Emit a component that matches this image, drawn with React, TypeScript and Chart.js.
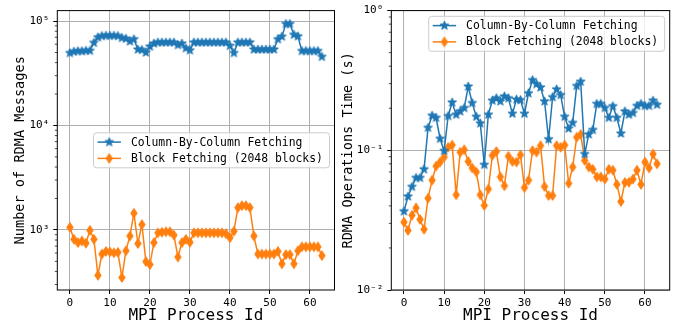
import React, { useEffect, useRef } from 'react';
import { Chart, registerables } from 'chart.js';
Chart.register(...registerables);

// ---------- data ----------
const processIds: number[] = Array.from({ length: 64 }, (_, i) => i);
const xTickValues = [0, 10, 20, 30, 40, 50, 60];

const seriesLabels = ['Column-By-Column Fetching', 'Block Fetching (2048 blocks)'];

const columnMessages = [
  49500, 51000, 51500, 51500, 52000, 52000, 62000, 70000, 72000, 72500,
  72500, 72500, 72000, 69000, 68000, 64000, 67000, 53500, 53000, 50000,
  57000, 61000, 62500, 62500, 62500, 62500, 62500, 59000, 61000, 55000,
  52500, 62500, 62500, 62500, 62500, 62500, 62500, 62500, 62500, 62500,
  58000, 49500, 62500, 62500, 62500, 62500, 53500, 53500, 53500, 53500,
  53500, 53500, 67000, 71000, 94000, 94000, 74000, 71500, 51700, 51700,
  51700, 51700, 51700, 45500,
];
const blockMessages = [
  1060, 813, 755, 783, 745, 990, 813, 367, 587, 622,
  615, 604, 610, 350, 631, 873, 1444, 739, 1124, 497,
  466, 755, 937, 950, 960, 960, 890, 550, 755, 813,
  760, 937, 937, 937, 937, 937, 937, 937, 937, 920,
  841, 972, 1634, 1706, 1706, 1634, 873, 587, 587, 587,
  587, 587, 622, 473, 580, 580, 473, 631, 688, 688,
  688, 688, 688, 567,
];
const columnTimes = [
  0.0366, 0.0467, 0.0548, 0.0635, 0.0635, 0.0731, 0.145, 0.177, 0.171, 0.121,
  0.099, 0.176, 0.22, 0.18, 0.19, 0.201, 0.286, 0.218, 0.174, 0.156,
  0.0788, 0.18, 0.227, 0.236, 0.224, 0.243, 0.236, 0.183, 0.231, 0.229,
  0.183, 0.256, 0.318, 0.298, 0.282, 0.224, 0.12, 0.24, 0.273, 0.249,
  0.174, 0.143, 0.157, 0.289, 0.31, 0.094, 0.13, 0.14, 0.215, 0.215,
  0.201, 0.171, 0.207, 0.171, 0.132, 0.19, 0.18, 0.185, 0.208, 0.215,
  0.208, 0.208, 0.227, 0.212,
];
const blockTimes = [
  0.0306, 0.0267, 0.0343, 0.0387, 0.032, 0.0272, 0.0454, 0.0611, 0.0771, 0.0823,
  0.0893, 0.105, 0.109, 0.048, 0.0968, 0.101, 0.0832, 0.0747, 0.07, 0.048,
  0.0403, 0.0528, 0.0918, 0.098, 0.0645, 0.0557, 0.0907, 0.0832, 0.0823, 0.0927,
  0.054, 0.061, 0.0995, 0.097, 0.108, 0.055, 0.0474, 0.0474, 0.108, 0.105,
  0.109, 0.058, 0.0759, 0.124, 0.13, 0.0846, 0.0759, 0.0731, 0.0645, 0.0645,
  0.0622, 0.0731, 0.072, 0.057, 0.043, 0.0589, 0.059, 0.0622, 0.072, 0.057,
  0.0823, 0.0747, 0.094, 0.08,
];

const leftMajorTicks = [1e3, 1e4, 1e5];
const rightMajorTicks = [1e-2, 1e-1, 1e0];

// ---------- styling ----------
const BLUE = '#1f77b4';
const ORANGE = '#ff7f0e';
const MONO = "'DejaVu Sans Mono', monospace";
const SUP: Record<string, string> = {
  '-': '\u207B', '0': '\u2070', '1': '\u00B9', '2': '\u00B2', '3': '\u00B3',
  '4': '\u2074', '5': '\u2075', '6': '\u2076', '7': '\u2077', '8': '\u2078', '9': '\u2079',
};
const powLabel = (v: number) => {
  const e = Math.round(Math.log10(v));
  return '10' + String(e).split('').map((c) => SUP[c]).join('');
};

function starCanvas(color: string, outer: number) {
  const size = Math.ceil(outer * 2 + 3);
  const c = document.createElement('canvas');
  c.width = size; c.height = size;
  const ctx = c.getContext('2d')!;
  const cx = size / 2, cy = size / 2;
  const inner = outer * 0.42;
  ctx.beginPath();
  for (let i = 0; i < 10; i++) {
    const r = i % 2 === 0 ? outer : inner;
    const a = -Math.PI / 2 + (i * Math.PI) / 5;
    const px = cx + r * Math.cos(a), py = cy + r * Math.sin(a);
    if (i === 0) ctx.moveTo(px, py); else ctx.lineTo(px, py);
  }
  ctx.closePath();
  ctx.fillStyle = color; ctx.fill();
  ctx.strokeStyle = color; ctx.lineWidth = 1; ctx.stroke();
  return c;
}
function diamondCanvas(color: string, hw: number, hh: number) {
  const w = Math.ceil(hw * 2 + 3), h = Math.ceil(hh * 2 + 3);
  const c = document.createElement('canvas');
  c.width = w; c.height = h;
  const ctx = c.getContext('2d')!;
  const cx = w / 2, cy = h / 2;
  ctx.beginPath();
  ctx.moveTo(cx, cy - hh); ctx.lineTo(cx + hw, cy); ctx.lineTo(cx, cy + hh); ctx.lineTo(cx - hw, cy);
  ctx.closePath();
  ctx.fillStyle = color; ctx.fill();
  ctx.strokeStyle = color; ctx.lineWidth = 1; ctx.stroke();
  return c;
}

type PanelProps = {
  canvasLeft: number;
  canvasWidth: number;
  areaLeft: number;
  rightPad: number;
  topPad: number;
  yMin: number;
  yMax: number;
  majors: number[];
  yTitle: string;
  yTitlePad: number;
  series: number[][];
  legendMode: 'centerRight' | 'upperRight';
};

const HEIGHT = 325;
const AREA_BOTTOM = 290;

function Panel(p: PanelProps) {
  const ref = useRef<HTMLCanvasElement | null>(null);
  useEffect(() => {
    if (!ref.current) return;
    const star = starCanvas(BLUE, 4.6);
    const diamond = diamondCanvas(ORANGE, 3.2, 4.8);
    const markers = [star, diamond];
    const colors = [BLUE, ORANGE];

    const decorPlugin = {
      id: 'decor',
      afterDraw(chart: any) {
        const { ctx, chartArea: a } = chart;
        const ys = chart.scales.y;
        ctx.save();
        // minor ticks
        ctx.strokeStyle = '#000';
        ctx.lineWidth = 0.7;
        const lo = Math.floor(Math.log10(p.yMin)), hi = Math.ceil(Math.log10(p.yMax));
        for (let e = lo; e <= hi; e++) {
          for (let m = 2; m <= 9; m++) {
            const v = m * Math.pow(10, e);
            if (v < p.yMin || v > p.yMax) continue;
            const py = ys.getPixelForValue(v);
            ctx.beginPath();
            ctx.moveTo(a.left - 2.5, py);
            ctx.lineTo(a.left, py);
            ctx.stroke();
          }
        }
        // frame
        ctx.lineWidth = 1;
        ctx.strokeStyle = '#000';
        ctx.strokeRect(a.left, a.top, a.right - a.left, a.bottom - a.top);

        // legend
        const bw = 236, bh = 35;
        const bx = a.right - 5 - bw;
        const by = p.legendMode === 'upperRight' ? a.top + 5.7 : (a.top + a.bottom) / 2 - bh / 2;
        const r = 3;
        ctx.beginPath();
        ctx.moveTo(bx + r, by);
        ctx.lineTo(bx + bw - r, by);
        ctx.quadraticCurveTo(bx + bw, by, bx + bw, by + r);
        ctx.lineTo(bx + bw, by + bh - r);
        ctx.quadraticCurveTo(bx + bw, by + bh, bx + bw - r, by + bh);
        ctx.lineTo(bx + r, by + bh);
        ctx.quadraticCurveTo(bx, by + bh, bx, by + bh - r);
        ctx.lineTo(bx, by + r);
        ctx.quadraticCurveTo(bx, by, bx + r, by);
        ctx.closePath();
        ctx.fillStyle = 'rgba(255,255,255,0.8)';
        ctx.fill();
        ctx.strokeStyle = '#cccccc';
        ctx.lineWidth = 1;
        ctx.stroke();
        const rows = [by + 9.3, by + 25.6];
        seriesLabels.forEach((lab, i) => {
          const ry = rows[i];
          ctx.strokeStyle = colors[i];
          ctx.lineWidth = 1.5;
          ctx.beginPath();
          ctx.moveTo(bx + 4, ry);
          ctx.lineTo(bx + 27.4, ry);
          ctx.stroke();
          const mk = markers[i];
          ctx.drawImage(mk, bx + 15.7 - mk.width / 2, ry - mk.height / 2);
          ctx.fillStyle = '#000';
          ctx.font = `11.4px ${MONO}`;
          ctx.textBaseline = 'middle';
          ctx.textAlign = 'left';
          ctx.fillText(lab, bx + 37.4, ry + 0.5);
        });
        ctx.restore();
      },
    };

    const chart = new Chart(ref.current, {
      type: 'line',
      data: {
        datasets: p.series.map((vals, i) => ({
          label: seriesLabels[i],
          data: processIds.map((x, k) => ({ x, y: vals[k] })),
          borderColor: colors[i],
          backgroundColor: colors[i],
          borderWidth: 1.5,
          pointStyle: markers[i] as any,
          pointRadius: 4,
          pointHoverRadius: 4,
          tension: 0,
          fill: false,
        })),
      },
      options: {
        responsive: false,
        animation: false,
        events: [],
        layout: { padding: { left: 0, right: p.rightPad, top: p.topPad, bottom: 0 } },
        plugins: { legend: { display: false }, tooltip: { enabled: false } },
        scales: {
          x: {
            type: 'linear',
            min: -3.15,
            max: 66.15,
            afterBuildTicks: (s: any) => { s.ticks = xTickValues.map((v) => ({ value: v })); },
            afterFit: (s: any) => { s.height = HEIGHT - AREA_BOTTOM; },
            grid: { color: '#b0b0b0', lineWidth: 1, drawTicks: true, tickLength: 4, tickColor: '#000' },
            border: { display: false },
            ticks: { font: { family: MONO, size: 11 }, color: '#000', padding: 3, maxRotation: 0, autoSkip: false },
            title: { display: true, text: 'MPI Process Id', font: { family: MONO, size: 16 }, color: '#000', padding: { top: 0, bottom: 0 } },
          },
          y: {
            type: 'logarithmic',
            min: p.yMin,
            max: p.yMax,
            afterBuildTicks: (s: any) => { s.ticks = p.majors.map((v) => ({ value: v })); },
            afterFit: (s: any) => { s.width = p.areaLeft; },
            grid: { color: '#b0b0b0', lineWidth: 1, drawTicks: true, tickLength: 4, tickColor: '#000' },
            border: { display: false },
            ticks: {
              font: { family: MONO, size: 11 }, color: '#000', padding: 4, autoSkip: false,
              callback: (v: any) => powLabel(Number(v)),
            },
            title: { display: true, text: p.yTitle, font: { family: MONO, size: 13.6 }, color: '#000', padding: { top: p.yTitlePad, bottom: 0 } },
          },
        },
      },
      plugins: [decorPlugin],
    });
    return () => chart.destroy();
  }, []);
  return (
    <canvas
      ref={ref}
      width={p.canvasWidth}
      height={HEIGHT}
      style={{ position: 'absolute', left: p.canvasLeft, top: 0, width: p.canvasWidth, height: HEIGHT }}
    />
  );
}

export default function App() {
  return (
    <div style={{ position: 'absolute', left: 0, top: 0, width: 681, height: 325, background: '#fff', overflow: 'hidden' }}>
      <Panel
        canvasLeft={0}
        canvasWidth={340}
        areaLeft={57.3}
        rightPad={3.5}
        topPad={5}
        yMin={265.7}
        yMax={126000}
        majors={leftMajorTicks}
        yTitle="Number of RDMA Messages"
        yTitlePad={12.8}
        series={[columnMessages, blockMessages]}
        legendMode="centerRight"
      />
      <Panel
        canvasLeft={340}
        canvasWidth={341}
        areaLeft={51.3}
        rightPad={11.3}
        topPad={6}
        yMin={0.01}
        yMax={1}
        majors={rightMajorTicks}
        yTitle="RDMA Operations Time (s)"
        yTitlePad={0}
        series={[columnTimes, blockTimes]}
        legendMode="upperRight"
      />
    </div>
  );
}
